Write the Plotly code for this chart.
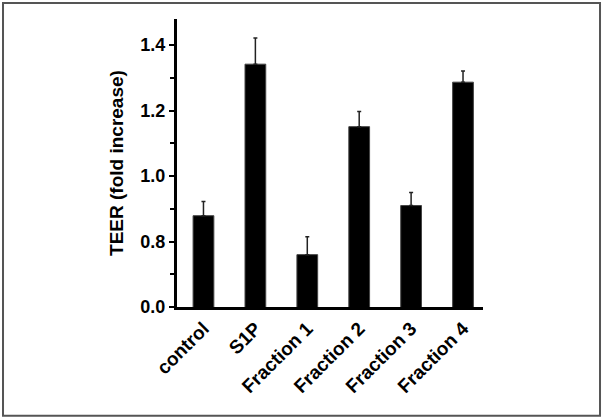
import plotly.graph_objects as go

# Данные
categories = ["control", "S1P", "Fraction 1", "Fraction 2", "Fraction 3", "Fraction 4"]
teer = [0.879, 1.342, 0.760, 1.151, 0.910, 1.287]
err_up = [0.043, 0.080, 0.055, 0.046, 0.040, 0.034]
# broken axis: "0.0" drawn where 0.6 would be
y_tickvals = [0.6, 0.8, 1.0, 1.2, 1.4]
y_ticktext = ["0.0", "0.8", "1.0", "1.2", "1.4"]
y_minor = [0.7, 0.9, 1.1, 1.3]

font = "Liberation Sans, Arial, Helvetica, sans-serif"

fig = go.Figure()
fig.add_trace(go.Bar(
    x=categories, y=teer,
    width=0.4,
    marker=dict(color="black", line=dict(color="#444", width=1)),
    error_y=dict(type="data", symmetric=False, array=err_up,
                 arrayminus=[0] * len(err_up), color="#222",
                 thickness=1.5, width=2),
))

fig.update_layout(
    width=604, height=420,
    margin=dict(l=177, r=121, t=19, b=113),
    plot_bgcolor="white", paper_bgcolor="white",
    showlegend=False,
    font=dict(family=font, color="black"),
    xaxis=dict(
        range=[-0.51, 5.385], automargin=False,
        showline=True, linecolor="black", linewidth=3,
        ticks="", tickangle=-45,
        tickfont=dict(size=19, weight="bold"),
    ),
    yaxis=dict(
        range=[0.6, 1.48], automargin=False,
        showline=True, linecolor="black", linewidth=3,
        tickmode="array", tickvals=y_tickvals, ticktext=y_ticktext,
        ticks="outside", ticklen=5, tickwidth=2, tickcolor="black",
        minor=dict(tickvals=y_minor, ticks="outside", ticklen=4,
                   tickwidth=2, tickcolor="black"),
        showgrid=False, zeroline=False,
        tickfont=dict(size=18, weight="bold"),
        title=dict(text="TEER (fold increase)", standoff=12,
                   font=dict(size=19, weight="bold")),
    ),
    shapes=[dict(type="rect", xref="paper", yref="paper",
                 x0=-0.5686, x1=1.3824, y0=-0.378, y1=1.0556,
                 line=dict(color="#555", width=2))],
)

# убираем стандартный отступ body, чтобы фигура стояла в (0, 0)
fig.write_html("out.html", config={"displayModeBar": False},
               post_script="document.body.style.margin='0';")
